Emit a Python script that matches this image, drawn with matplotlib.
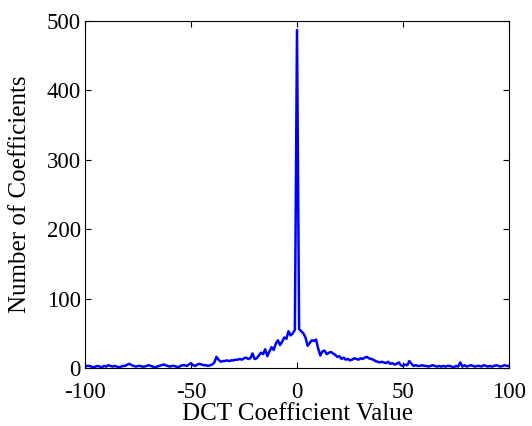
import matplotlib
matplotlib.use("Agg")
import matplotlib.pyplot as plt
import numpy as np

x_values = list(range(-100, 101))
counts_neg = [
    2,3,3,2,1,2,3,2,1,3,2,4,3,2,3,2,1,2,3,3,
    5,6,4,3,2,3,3,2,2,3,4,3,2,1,2,3,4,5,4,3,
    2,3,3,2,1,3,4,4,3,5,7,4,3,5,6,5,4,4,3,4,
    5,8,16,12,9,10,10,11,10,11,11,12,12,13,12,14,15,13,14,21,
    13,14,18,22,20,27,17,24,30,26,35,40,33,38,44,42,53,47,50,55,
]
count_zero = [487]
counts_pos = [
    56,53,50,44,32,36,40,39,41,28,18,24,25,20,22,23,21,19,16,17,
    13,15,12,13,11,12,14,13,12,14,13,15,16,14,13,12,10,9,8,9,
    8,7,9,6,7,5,6,8,4,3,5,4,10,6,3,4,3,3,4,3,
    3,2,3,4,3,2,3,2,3,2,3,3,2,1,3,2,8,2,4,2,
    3,4,3,2,3,3,2,4,3,2,3,2,3,4,3,2,3,4,3,3,
]
counts = counts_neg + count_zero + counts_pos

x_ticks = [-100, -50, 0, 50, 100]
y_ticks = [0, 100, 200, 300, 400, 500]

plt.rcParams['font.family'] = ['Liberation Serif', 'DejaVu Serif']
plt.rcParams['axes.unicode_minus'] = False
fig = plt.figure(figsize=(5.32, 4.26), dpi=100)
ax = fig.add_axes([85/532, 1-368/426, (509-85)/532, (368-21)/426])
ax.plot(x_values, counts, color=(0, 0, 1), linewidth=1.8)
ax.set_xlim(-100, 100)
ax.set_ylim(0, 500)
ax.set_xticks(x_ticks)
ax.set_yticks(y_ticks)
ax.tick_params(direction='in', top=True, right=True, labelsize=16.5, length=4, width=0.8)
ax.tick_params(axis='x', pad=10)
ax.tick_params(axis='y', pad=3)
for s in ax.spines.values():
    s.set_linewidth(0.8)
ax.set_xlabel('DCT Coefficient Value', fontsize=18, labelpad=0)
ax.set_ylabel('Number of Coefficients', fontsize=18, labelpad=11)
fig.savefig('out.png', dpi=100)
